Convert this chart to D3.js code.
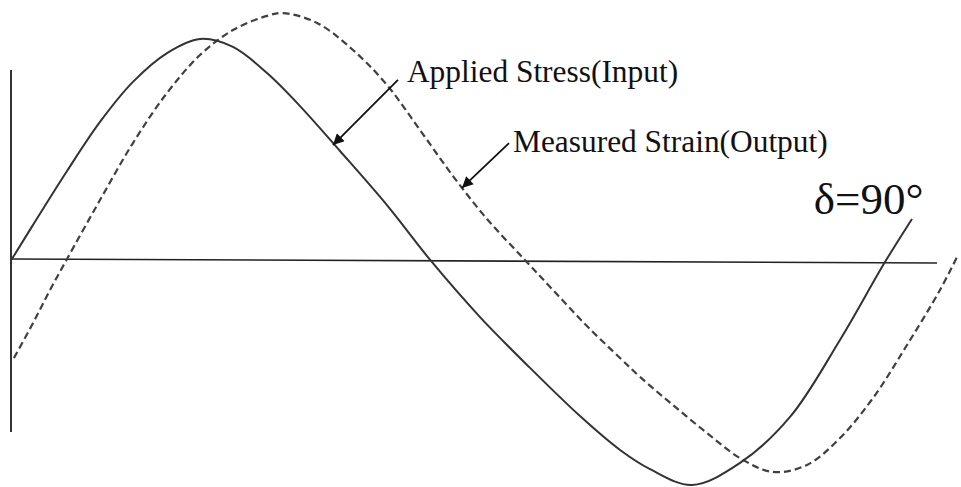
<!DOCTYPE html>
<html>
<head>
<meta charset="utf-8">
<script src="https://cdn.jsdelivr.net/npm/d3@7"></script>
<style>
html,body{margin:0;padding:0;background:#fff;}
svg{display:block;}
</style>
</head>
<body>
<svg id="chart" width="961" height="487"></svg>
<script>
// ---- data (time in arbitrary units 0..100, amplitude normalised) ----
const stressT = [0.1, 2.38, 6.05, 9.61, 13.17, 16.85, 20.41, 23.97, 27.65, 31.21, 35.53, 40.6, 45.36, 50.65, 56.05, 61.45, 65.77, 69.01, 73.54, 78.73, 84.13, 89.52, 94.38, 97.3];
const stressV = [0, 0.155, 0.4, 0.623, 0.805, 0.936, 1.0, 0.964, 0.845, 0.695, 0.491, 0.245, -0.009, -0.264, -0.495, -0.714, -0.868, -0.955, -1.027, -0.927, -0.718, -0.368, -0.014, 0.182];

const strainT = [0.32, 2.38, 4.21, 6.05, 9.61, 13.17, 16.85, 20.41, 23.97, 27.65, 29.37, 33.05, 36.93, 40.6, 44.17, 47.73, 51.4, 55.4, 58.53, 62.2, 65.77, 67.93, 71.49, 75.16, 78.73, 82.29, 85.96, 89.52, 93.09, 96.76, 100.32, 102.27];
const strainV = [-0.45, -0.291, -0.141, 0, 0.268, 0.527, 0.755, 0.927, 1.041, 1.105, 1.118, 1.073, 0.95, 0.791, 0.586, 0.377, 0.182, 0, -0.141, -0.305, -0.45, -0.536, -0.664, -0.791, -0.905, -0.968, -0.936, -0.814, -0.632, -0.391, -0.141, 0.018];

const seriesNames = ["Applied Stress(Input)", "Measured Strain(Output)"];
const phaseLabel = "δ=90°";

// annotation anchors in data units: [labelT, labelV, arrowFromT, arrowFromV, arrowToT, arrowToV]
const stressNote = [42.76, 0.805, 41.79, 0.814, 34.77, 0.518];
const strainNote = [54.21, 0.486, 53.78, 0.527, 48.7, 0.323];
const phaseNote = [86.7, 0.205];

// axes extents in data units
const xAxisT = [0, 100];
const xAxisV = [0, -0.018];
const yAxisV = [0.859, -0.786];

// ---- drawing ----
const svg = d3.select("#chart");
const x = d3.scaleLinear().domain([0, 100]).range([11, 937]);
const y = d3.scaleLinear().domain([-1, 1]).range([479, 39]);

const serif = "'Liberation Serif', 'Times New Roman', serif";

const defs = svg.append("defs");
defs.append("marker")
  .attr("id", "arrow")
  .attr("viewBox", "0 0 10 10")
  .attr("refX", 10).attr("refY", 5)
  .attr("markerUnits", "userSpaceOnUse")
  .attr("markerWidth", 15).attr("markerHeight", 11)
  .attr("orient", "auto")
  .append("path").attr("d", "M0,0 L10,5 L0,10 Z").attr("fill", "#111");

// vertical axis
svg.append("line")
  .attr("x1", x(0)).attr("x2", x(0))
  .attr("y1", y(yAxisV[0])).attr("y2", y(yAxisV[1]))
  .attr("stroke", "#333").attr("stroke-width", 2);

// horizontal axis
svg.append("line")
  .attr("x1", x(xAxisT[0])).attr("x2", x(xAxisT[1]))
  .attr("y1", y(xAxisV[0])).attr("y2", y(xAxisV[1]))
  .attr("stroke", "#222").attr("stroke-width", 1.6);

const line = d3.line()
  .x(d => x(d[0])).y(d => y(d[1]))
  .curve(d3.curveCatmullRom.alpha(0.5));

const stress = stressT.map((t, i) => [t, stressV[i]]);
const strain = strainT.map((t, i) => [t, strainV[i]]);

svg.append("path").datum(strain)
  .attr("d", line)
  .attr("fill", "none")
  .attr("stroke", "#404040")
  .attr("stroke-width", 2.2)
  .attr("stroke-dasharray", "7,4");

svg.append("path").datum(stress)
  .attr("d", line)
  .attr("fill", "none")
  .attr("stroke", "#333")
  .attr("stroke-width", 2);

// annotations
const notes = [stressNote, strainNote];
notes.forEach((n, i) => {
  svg.append("line")
    .attr("x1", x(n[2])).attr("y1", y(n[3]))
    .attr("x2", x(n[4])).attr("y2", y(n[5]))
    .attr("stroke", "#111").attr("stroke-width", 1.8)
    .attr("marker-end", "url(#arrow)");
  svg.append("text")
    .attr("x", x(n[0])).attr("y", y(n[1]))
    .attr("font-family", serif)
    .attr("font-size", 31.4)
    .attr("fill", "#111")
    .text(seriesNames[i]);
});

svg.append("text")
  .attr("x", x(phaseNote[0])).attr("y", y(phaseNote[1]))
  .attr("font-family", serif)
  .attr("font-size", 45)
  .attr("fill", "#111")
  .text(phaseLabel);
</script>
</body>
</html>
